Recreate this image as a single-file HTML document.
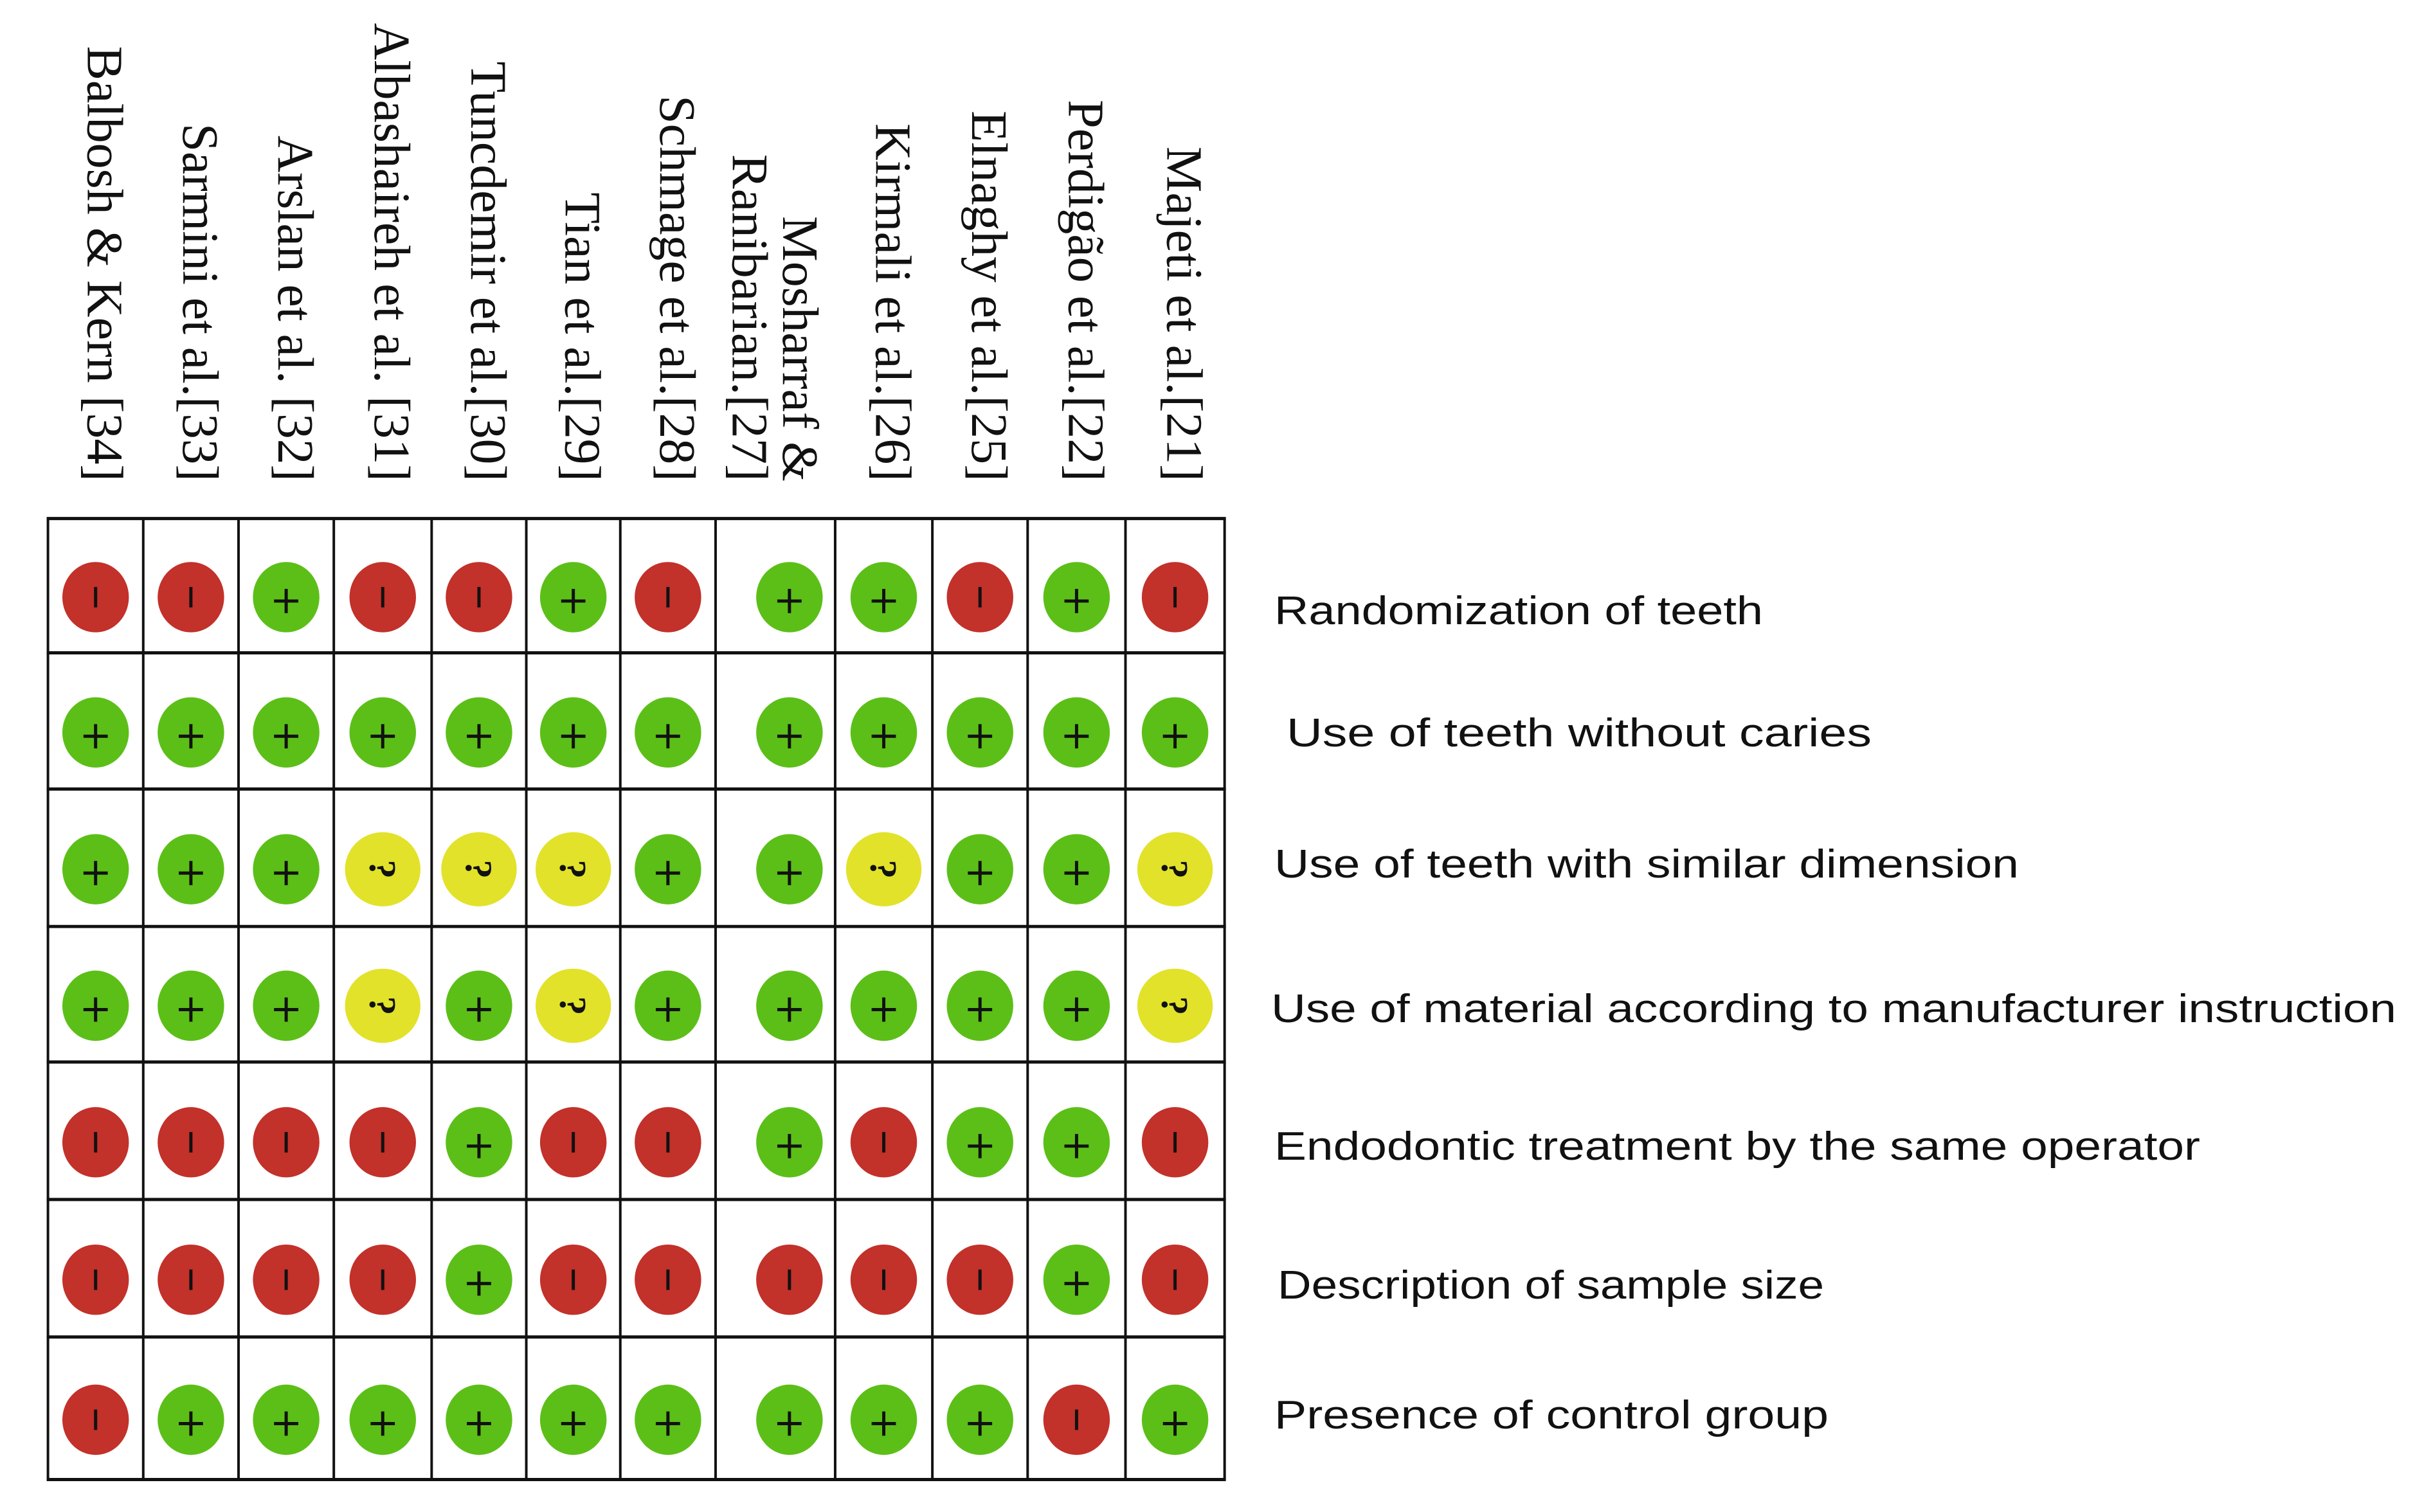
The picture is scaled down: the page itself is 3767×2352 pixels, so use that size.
<!DOCTYPE html>
<html><head><meta charset="utf-8"><style>
html,body{margin:0;padding:0;background:#fff;}
svg{display:block;}
</style></head><body>
<svg id="chart" width="3767" height="2352" viewBox="0 0 3767 2352" xmlns="http://www.w3.org/2000/svg">
<rect width="3767" height="2352" fill="#fff"/>
<g transform="scale(0.9946)">
<g id="grid"></g>
<g id="marks"></g>
<g id="heads"></g>
</g>
<g id="rowlabels"></g>
</svg>
<script>
const studies = ["Balbosh & Kern [34]","Sarmini et al.[33]","Arslan et al. [32]","Albashaireh et al. [31]","Tuncdemir et al.[30]","Tian et al.[29]","Schmage et al.[28]","Mosharraf & Ranibarian.[27]","Kirmali et al.[26]","Elnaghy et al.[25]","Perdigão et al.[22]","Majeti et al.[21]"];
const criteria = ["Randomization of teeth"," Use of teeth without  caries","Use of teeth with similar dimension","Use of material according to manufacturer instruction","Endodontic  treatment by the same operator"," Description of sample size","Presence of control  group"];
const judgements = [
 ["-","-","+","-","-","+","-","+","+","-","+","-"],
 ["+","+","+","+","+","+","+","+","+","+","+","+"],
 ["+","+","+","?","?","?","+","+","?","+","+","?"],
 ["+","+","+","?","+","?","+","+","+","+","+","?"],
 ["-","-","-","-","+","-","-","+","-","+","+","-"],
 ["-","-","-","-","+","-","-","-","-","-","+","-"],
 ["-","+","+","+","+","+","+","+","+","+","-","+"]
];
const NS="http://www.w3.org/2000/svg";
const colX=[75,224,373,522,675,823,970,1119,1306,1458,1607,1760,1915];
const rowY=[811,1021,1234,1449,1661,1876,2091,2314];
const headTextLen=[681,560,541,717,657,452,604,null,560,580,597,524];
const rowTextLen=[760,910,1158,1750,1440,850,862];
const rowLabelX=[1982,2001,1982,1977,1982,1987,1982];
const rowLabelY=[971,1161,1365,1590,1804,2020,2222];
function mk(tag,attrs,parent){const e=document.createElementNS(NS,tag);for(const k in attrs)e.setAttribute(k,attrs[k]);parent.appendChild(e);return e;}
const grid=document.getElementById('grid');
rowY.forEach(y=>{const l=mk('line',{x1:colX[0]-2,x2:colX[colX.length-1]+2,y1:y,y2:y,stroke:'#111','stroke-width':5},grid);

});
colX.forEach(x=>{const l=mk('line',{x1:x,x2:x,y1:rowY[0],y2:rowY[rowY.length-1],stroke:'#111','stroke-width':4},grid);

});
const marks=document.getElementById('marks');
const colors={"+":"#5cbf18","-":"#c2312a","?":"#e2e22a"};
judgements.forEach((row,ri)=>{row.forEach((v,ci)=>{
 let cx=(colX[ci]+colX[ci+1])/2; if(ci===7) cx+=22;
 const cy=(rowY[ri]+rowY[ri+1])/2+18;
 const g=mk('g',{},marks);
 
 
 const big=v==='?';
 mk('ellipse',{cx:cx,cy:cy,rx:big?59:52,ry:big?58:55,fill:colors[v]},g);
 if(v==='+'){mk('line',{x1:cx-19,x2:cx+19,y1:cy+6,y2:cy+6,stroke:'#111','stroke-width':5},g);mk('line',{x1:cx,x2:cx,y1:cy-13,y2:cy+25,stroke:'#111','stroke-width':5},g);}
 else if(v==='-'){mk('line',{x1:cx,x2:cx,y1:cy-16,y2:cy+16,stroke:'#111','stroke-width':5},g);}
 else {const t=mk('text',{x:0,y:0,transform:`translate(${cx},${cy}) rotate(90)`,'text-anchor':'middle','dominant-baseline':'central','font-family':'Liberation Serif, serif','font-size':60,'font-weight':'bold',fill:'#111'},g);t.textContent='?';}
});});
const heads=document.getElementById('heads');
studies.forEach((s,i)=>{
 const cx=(colX[i]+colX[i+1])/2;
 const parts = i===7 ? [["Ranibarian.[27]",1172,512],["Mosharraf &",1251,415]] : [[s,cx+14,headTextLen[i]]];
 parts.forEach(p=>{
  const t=mk('text',{x:0,y:0,transform:`translate(${p[1]},753) rotate(90)`,'text-anchor':'end','dominant-baseline':'central','font-family':'Liberation Serif, serif','font-size':80,fill:'#111',textLength:p[2],lengthAdjust:'spacingAndGlyphs'},heads);
  
  
  t.textContent=p[0];
 });
});
const rl=document.getElementById('rowlabels');
criteria.forEach((c,i)=>{
 const t=mk('text',{x:rowLabelX[i],y:rowLabelY[i],'font-family':'Liberation Sans, sans-serif','font-size':62,fill:'#111',textLength:rowTextLen[i],lengthAdjust:'spacingAndGlyphs','xml:space':'preserve'},rl);
 
 
 t.textContent=c;
});
</script>
</body></html>
